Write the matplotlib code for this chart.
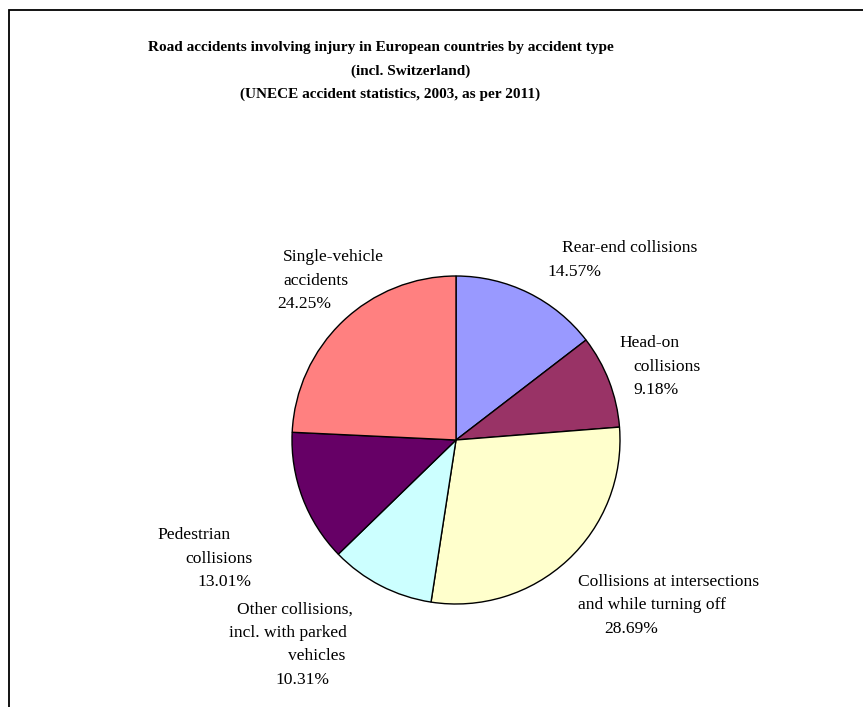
import matplotlib
matplotlib.use("Agg")
import matplotlib.pyplot as plt
from matplotlib.patches import Rectangle

# Data (clockwise from 12 o'clock)
categories = ["Rear-end collisions", "Head-on collisions",
              "Collisions at intersections and while turning off",
              "Other collisions, incl. with parked vehicles",
              "Pedestrian collisions", "Single-vehicle accidents"]
shares = [14.57, 9.18, 28.69, 10.31, 13.01, 24.25]
colors = ["#9999FF", "#993366", "#FFFFCC", "#CCFFFF", "#660066", "#FF8080"]

# label lines as drawn in the chart (text, left x px, y px)
label_lines = [
    [("Rear-end collisions", 562, 248), ("{:.2f}%", 547, 272)],
    [("Head-on", 619, 343), ("collisions", 633, 367), ("{:.2f}%", 633, 390)],
    [("Collisions at intersections", 578, 582), ("and while turning off", 578, 605),
     ("{:.2f}%", 604, 629)],
    [("Other collisions,", 237, 610), ("incl. with parked", 229, 633),
     ("vehicles", 288, 656), ("{:.2f}%", 275, 680)],
    [("Pedestrian", 157, 535), ("collisions", 185, 559), ("{:.2f}%", 197, 582)],
    [("Single-vehicle", 283, 257), ("accidents", 283, 281), ("{:.2f}%", 277, 304)],
]

title_lines = [
    ("Road accidents involving injury in European countries by accident type", 381, 47),
    ("(incl. Switzerland)", 411, 71),
    ("(UNECE accident statistics, 2003, as per 2011)", 390, 94),
]

W, H = 863, 707
fig = plt.figure(figsize=(W / 100, H / 100), dpi=100)
plt.rcParams["font.family"] = ["Liberation Serif", "DejaVu Serif"]

# outer chart frame (cut off at right and bottom)
fig.patches.append(Rectangle((9 / W, -0.05), 1.1, (H - 10) / H + 0.05,
                             transform=fig.transFigure, fill=False,
                             edgecolor="black", linewidth=1.3))

cx, cy, r = 456, 440, 164
ax = fig.add_axes([(cx - r) / W, (H - cy - r) / H, 2 * r / W, 2 * r / H])
ax.pie(shares, colors=colors, startangle=90, counterclock=False,
       wedgeprops=dict(edgecolor="black", linewidth=1.0))
ax.set_xlim(-1, 1)
ax.set_ylim(-1, 1)
ax.set_aspect("equal")
ax.axis("off")

def px(x, y):
    return x / W, 1 - y / H

for text, x, y in title_lines:
    fig.text(*px(x, y), text, ha="center", va="center",
             fontsize=11, fontweight="bold")

for lines, val in zip(label_lines, shares):
    for text, x, y in lines:
        fig.text(*px(x, y), text.format(val), ha="left", va="center",
                 fontsize=12.6)

fig.savefig("out.png", dpi=100)
